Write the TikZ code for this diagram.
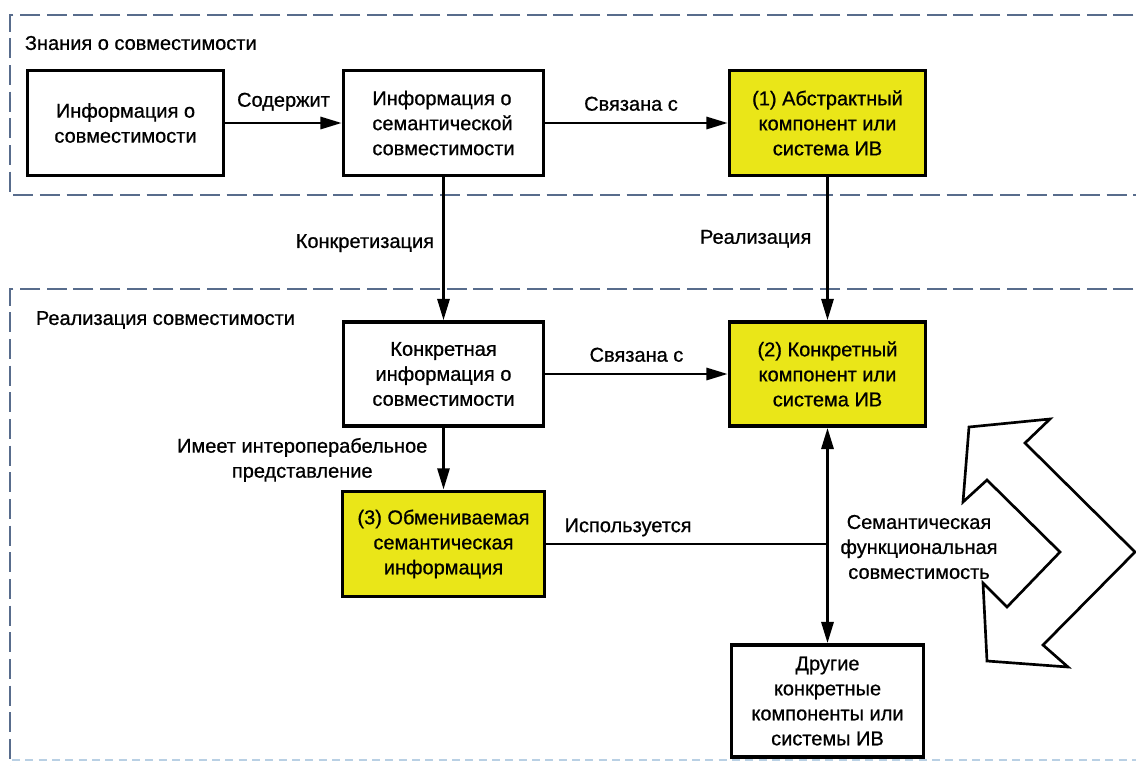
\documentclass[tikz,border=0pt]{standalone}
\usepackage{fontspec}
\setmainfont{Liberation Sans}
\newfontfamily\diagfont{Liberation Sans}[FakeBold=0.7]
\usetikzlibrary{arrows.meta}
\definecolor{boxyellow}{RGB}{234,230,24}
\definecolor{frameblue}{RGB}{88,108,140}
\definecolor{framefaint}{RGB}{185,208,228}

\begin{document}
\begin{tikzpicture}[x=0.75pt,y=-0.75pt,
  font=\diagfont\fontsize{15pt}{18.75pt}\selectfont,
  box/.style={draw=black, line width=2.6pt, fill=white, align=center, inner sep=2pt,
              minimum width=147pt, minimum height=79pt},
  hibox/.style={box, fill=boxyellow},
  conn/.style={line width=2.2pt, -{Triangle[length=16pt,width=9pt]}},
  dconn/.style={line width=2.4pt, {Triangle[length=16pt,width=9pt]}-{Triangle[length=16pt,width=9pt]}},
  plain/.style={line width=1.6pt},
  lbl/.style={inner sep=2pt, align=center},
  frame/.style={draw=frameblue, line width=2.2pt, dash pattern=on 15pt off 5pt},
  faintframe/.style={draw=framefaint, line width=1.6pt, dash pattern=on 6pt off 4pt},
  chevron/.style={draw=black, line width=2pt, fill=white, line join=miter}
]
\useasboundingbox (0,0) rectangle (1136,765);
\fill[white] (0,0) rectangle (1136,765);

% dashed group frames, open to the right
\begin{scope}
  \clip (0,0) rectangle (1136,765);
  \draw[frame] (1160,15) -- (10,15) -- (10,195) -- (1160,195);
  \draw[frame] (1160,289) -- (10,289) -- (10,780);
  \draw[faintframe] (12,760) -- (1160,760);
\end{scope}

% group titles
\node[lbl, anchor=west] (t1) at (22,43) {Знания о совместимости};
\node[lbl, anchor=west] (t2) at (33,320) {Реализация совместимости};

% boxes
\node[box]  (b1) at (125.5,123) {Информация о\\совместимости};
\node[box, align=left, minimum width=150pt] (b2) at (443.5,123) {Информация о\\семантической\\совместимости};
\node[hibox] (b3) at (827.5,123) {(1) Абстрактный\\компонент или\\система ИВ};
\node[box, minimum width=150pt, minimum height=78pt] (b4) at (443.5,374) {Конкретная\\информация о\\совместимости};
\node[hibox, minimum height=78pt] (b5) at (827.5,374) {(2) Конкретный\\компонент или\\система ИВ};
\node[hibox, minimum width=151.5pt] (b6) at (443.5,544) {(3) Обмениваемая\\семантическая\\информация};
\node[box, minimum width=144pt, minimum height=84pt] (b7) at (827.5,701) {Другие\\конкретные\\компоненты или\\системы ИВ};

% connectors
\draw[conn] (b1) -- node[lbl, above=6pt] {Содержит} (b2);
\draw[conn] (b2) -- node[lbl, above=6pt, pos=0.47] {Связана с} (b3);
\draw[conn] (b2) -- node[lbl, left=4pt, pos=0.46] {Конкретизация} (b4);
\draw[conn] (b3) -- node[lbl, left=9pt, pos=0.43] {Реализация} (b5);
\draw[conn] (b4) -- node[lbl, above=6pt] {Связана с} (b5);
\draw[conn] (b4) -- node[lbl, left=9pt, pos=0.52] {Имеет интероперабельное\\представление} (b6);
\draw[dconn] (b5) -- (b7);
\coordinate (j) at (827.5,544);
\draw[plain] (b6.east) -- node[lbl, pos=0, anchor=south west, xshift=11pt, yshift=3pt] {Используется} (j);

% bent double arrow
\draw[chevron] (969,427) -- (1050,419) -- (1025,443) -- (1135,552) -- (1043,645)
  -- (1068,667) -- (987,661) -- (983,583) -- (1007,607) -- (1060,552)
  -- (987,480) -- (963,502) -- cycle;

\node[lbl] (sem) at (919,547) {Семантическая\\функциональная\\совместимость};
\end{tikzpicture}
\end{document}
